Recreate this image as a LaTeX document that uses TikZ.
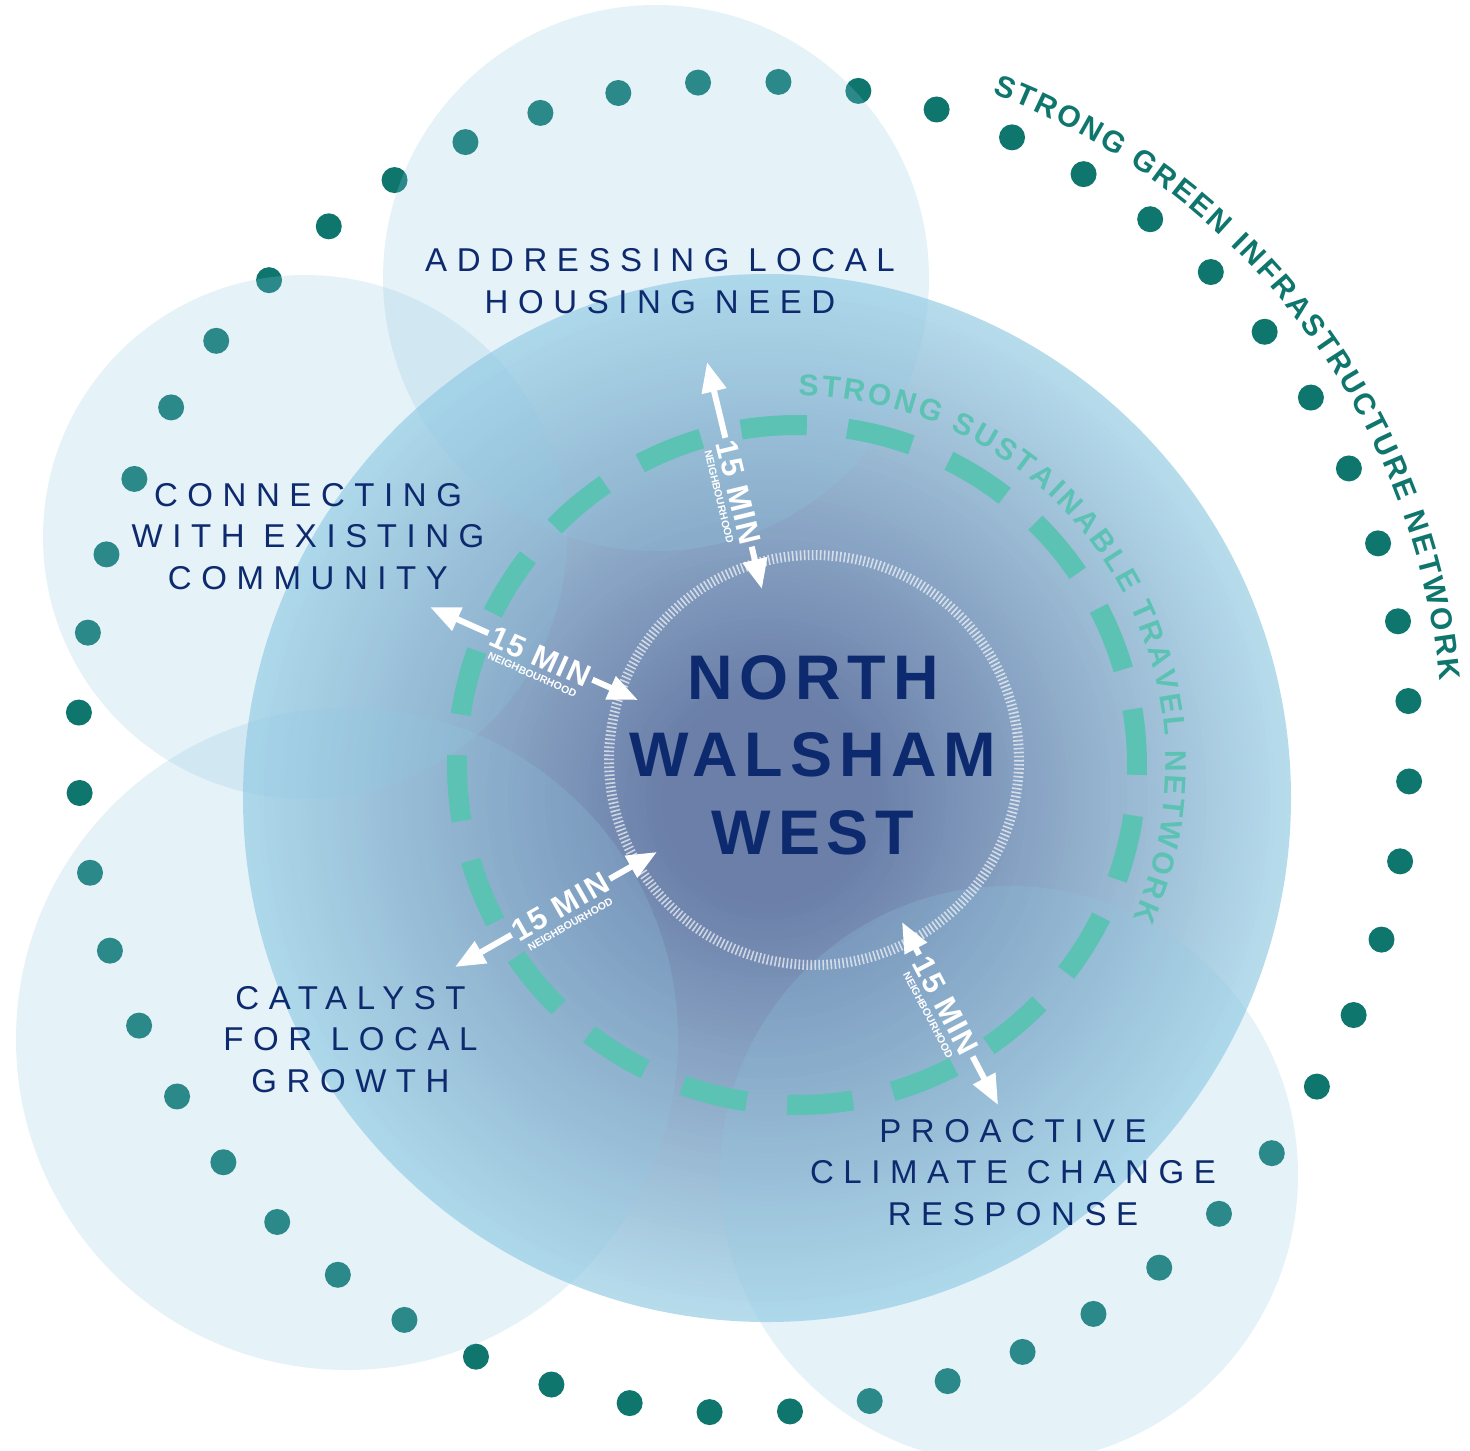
\documentclass[tikz,border=0pt]{standalone}
\usepackage{fontspec}
\setmainfont{Liberation Sans}
\usetikzlibrary{arrows.meta,decorations.text}
\definecolor{navyc}{RGB}{14,42,110}
\definecolor{dotc}{RGB}{15,118,110}
\definecolor{ringc}{RGB}{91,194,180}
\definecolor{haloc}{RGB}{144,202,228}
\definecolor{glowin}{RGB}{106,126,168}
\definecolor{glowout}{RGB}{182,220,236}
\newcommand\tvlfont{\fontsize{30}{30}\selectfont\bfseries\color{ringc}}
\newcommand\gifont{\fontsize{30}{30}\selectfont\bfseries\color{dotc}}
\tikzset{
  halo/.style={fill=haloc, fill opacity=0.23},
  gdot/.style={fill=dotc},
  dashseg/.style={draw=ringc, line width=20pt},
  lab/.style={text=navyc, align=center, inner sep=0pt,
    font=\fontsize{33}{41.5}\selectfont\addfontfeatures{LetterSpace=29}},
  title/.style={text=navyc, align=center, inner sep=0pt,
    font=\fontsize{63}{77.5}\selectfont\bfseries\addfontfeatures{LetterSpace=11}},
  arr/.style={draw=white, line width=6pt, -{Triangle[length=30pt,width=24pt]}},
  minlbl/.style={text=white, inner sep=0pt,
    font=\fontsize{31}{31}\selectfont\bfseries\addfontfeatures{LetterSpace=5}},
  nbhd/.style={text=white, inner sep=0pt,
    font=\fontsize{10.5}{10.5}\selectfont\bfseries}
}
\begin{document}
\begin{tikzpicture}[x=1pt,y=-1pt]
\useasboundingbox (0,0) rectangle (1470,1451);
\clip (0,0) rectangle (1470,1451);
\fill[white] (0,0) rectangle (1470,1451);

% outer ring of green-infrastructure dots
\foreach \k in {0,...,51}{
  \fill[gdot] (744,747) ++({-(183.96+6.923*\k)}:666) circle[radius=13];
}

% main gradient circle (concentric steps)
\foreach \i in {0,...,79}{
  \pgfmathsetmacro\rr{524-5.3*\i}
  \pgfmathtruncatemacro\pp{min(100,(524-\rr)/4.19)}
  \fill[glowin!\pp!glowout] (767,798) circle[radius=\rr];
}

% translucent theme circles
\fill[halo] (656,278) circle[radius=273];
\fill[halo] (305,537) circle[radius=262];
\fill[halo] (347,1039) circle[radius=331];
\fill[halo] (1009,1175) circle[radius=289];

% sustainable travel dashed ring
\foreach \k in {0,...,19}{
  \pgfmathsetmacro\ca{93.9+18*\k-5.56}
  \pgfmathsetmacro\cb{93.9+18*\k+5.56}
  \draw[dashseg] (797,765) ++({-\ca}:340) arc[start angle={-\ca}, end angle={-\cb}, radius=340];
}
\path[decorate, decoration={text along path, text align=fit to path,
   text={|\tvlfont|STRONG SUSTAINABLE TRAVEL NETWORK}}]
   (797,765) ++(-89.8:369) arc[start angle=-89.8, end angle=24.5, radius=369];

% outer label
\path[decorate, decoration={text along path, text align=fit to path,
   text={|\gifont|STRONG GREEN INFRASTRUCTURE NETWORK}}]
   (744,747) ++(-69.2:699) arc[start angle=-69.2, end angle=-5.5, radius=699];

% inner ticked ring
\draw[white, draw opacity=0.65, line width=10pt, dash pattern=on 1.6pt off 2.4pt] (814,760) circle[radius=205];

% centre title
\node[title] (nww) at (813,755) {NORTH\\WALSHAM\\WEST};

% theme labels
\node[lab] (addr) at (660,281) {ADDRESSING LOCAL\\HOUSING NEED};
\node[lab] (conn) at (308,536.5) {CONNECTING\\WITH EXISTING\\COMMUNITY};
\node[lab] (cata) at (350.5,1039.5) {CATALYST\\FOR LOCAL\\GROWTH};
\node[lab] (proa) at (1013,1172.5) {PROACTIVE\\CLIMATE CHANGE\\RESPONSE};

% 15 minute neighbourhood arrows
\begin{scope}[shift={(707,362)}, rotate=-76.4]
  \coordinate (t1a) at (0,0);
  \coordinate (s1a) at (78,0);
  \coordinate (s1b) at (190,0);
  \coordinate (t1b) at (233.6,0);
  \node[minlbl, rotate=-76.4] (m1) at (134,0) {15 MIN};
  \node[nbhd, rotate=-76.4] (n1) at (134,20) {NEIGHBOURHOOD};
\end{scope}
\draw[arr] (s1a) -- (t1a);
\draw[arr] (s1b) -- (t1b);

\begin{scope}[shift={(430,607)}, rotate=-24.1]
  \coordinate (t2a) at (0,0);
  \coordinate (s2a) at (64,0);
  \coordinate (s2b) at (178,0);
  \coordinate (t2b) at (227.8,0);
  \node[minlbl, rotate=-24.1] (m2) at (121,0) {15 MIN};
  \node[nbhd, rotate=-24.1] (n2) at (121,20) {NEIGHBOURHOOD};
\end{scope}
\draw[arr] (s2a) -- (t2a);
\draw[arr] (s2b) -- (t2b);

\begin{scope}[shift={(455,967)}, rotate=29.66]
  \coordinate (t3a) at (0,0);
  \coordinate (s3a) at (65,0);
  \coordinate (s3b) at (178,0);
  \coordinate (t3b) at (232.4,0);
  \node[minlbl, rotate=29.66] (m3) at (121.5,0) {15 MIN};
  \node[nbhd, rotate=29.66] (n3) at (121.5,20) {NEIGHBOURHOOD};
\end{scope}
\draw[arr] (s3a) -- (t3a);
\draw[arr] (s3b) -- (t3b);

\begin{scope}[shift={(902,922)}, rotate=-62.3]
  \coordinate (t4a) at (0,0);
  \coordinate (s4a) at (37,0);
  \coordinate (s4b) at (152,0);
  \coordinate (t4b) at (206.7,0);
  \node[minlbl, rotate=-62.3] (m4) at (94.5,0) {15 MIN};
  \node[nbhd, rotate=-62.3] (n4) at (94.5,20) {NEIGHBOURHOOD};
\end{scope}
\draw[arr] (s4a) -- (t4a);
\draw[arr] (s4b) -- (t4b);
\end{tikzpicture}
\end{document}
